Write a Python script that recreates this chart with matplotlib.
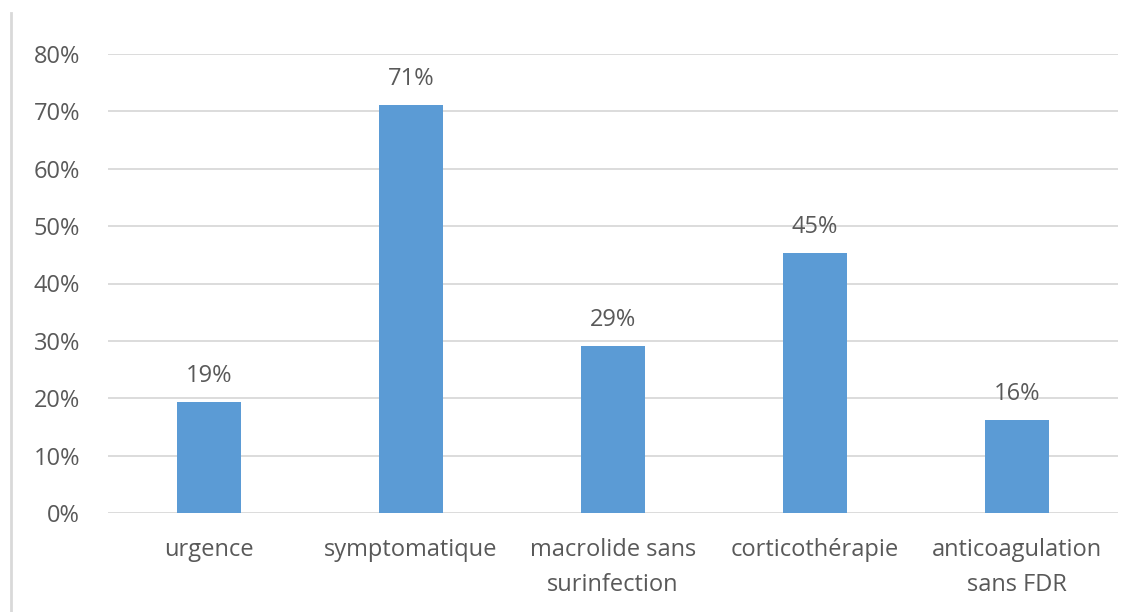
"""
Bar chart of percentages per category.
"""
import matplotlib
matplotlib.use('Agg')
import matplotlib.pyplot as plt
from matplotlib.lines import Line2D
from matplotlib.ticker import FuncFormatter

categories = ['urgence', 'symptomatique', 'macrolide sans\nsurinfection',
              'corticothérapie', 'anticoagulation\nsans FDR']
values = [0.193, 0.711, 0.291, 0.453, 0.162]
yticks = [0, 0.1, 0.2, 0.3, 0.4, 0.5, 0.6, 0.7, 0.8]

text_color = '#595959'
bar_color = '#5B9BD5'
grid_color = '#D9D9D9'
fsize = 17

plt.rc('font', family=['Open Sans', 'DejaVu Sans'])

fig = plt.figure(figsize=(11.42, 6.12), dpi=100)
ax = fig.add_axes([108 / 1142, 1 - 513 / 612, 1010 / 1142, 459 / 612])

x = range(len(categories))
ax.bar(x, values, width=0.32, color=bar_color, zorder=3)

for xi, v in zip(x, values):
    ax.text(xi, v + 0.035, '{:.0f}%'.format(v * 100), ha='center', va='baseline',
            fontsize=fsize, color=text_color)

ax.set_xlim(-0.5, len(categories) - 0.5)
ax.set_ylim(0, 0.8)
ax.set_yticks(yticks)
ax.yaxis.set_major_formatter(FuncFormatter(lambda v, p: '{:.0f}%'.format(v * 100)))
ax.set_xticks(list(x))
ax.set_xticklabels(categories, fontsize=fsize, color=text_color, linespacing=1.6)
ax.tick_params(axis='y', labelsize=fsize, labelcolor=text_color, length=0, pad=20)
ax.tick_params(axis='x', length=0, pad=18)
ax.grid(axis='y', color=grid_color, linewidth=1.3, zorder=0)
for s in ax.spines.values():
    s.set_visible(False)

# outer chart border on the left
fig.add_artist(Line2D([11 / 1142, 11 / 1142], [0, 1 - 13 / 612],
                      color=grid_color, linewidth=2))

fig.savefig('out.png', dpi=100)
